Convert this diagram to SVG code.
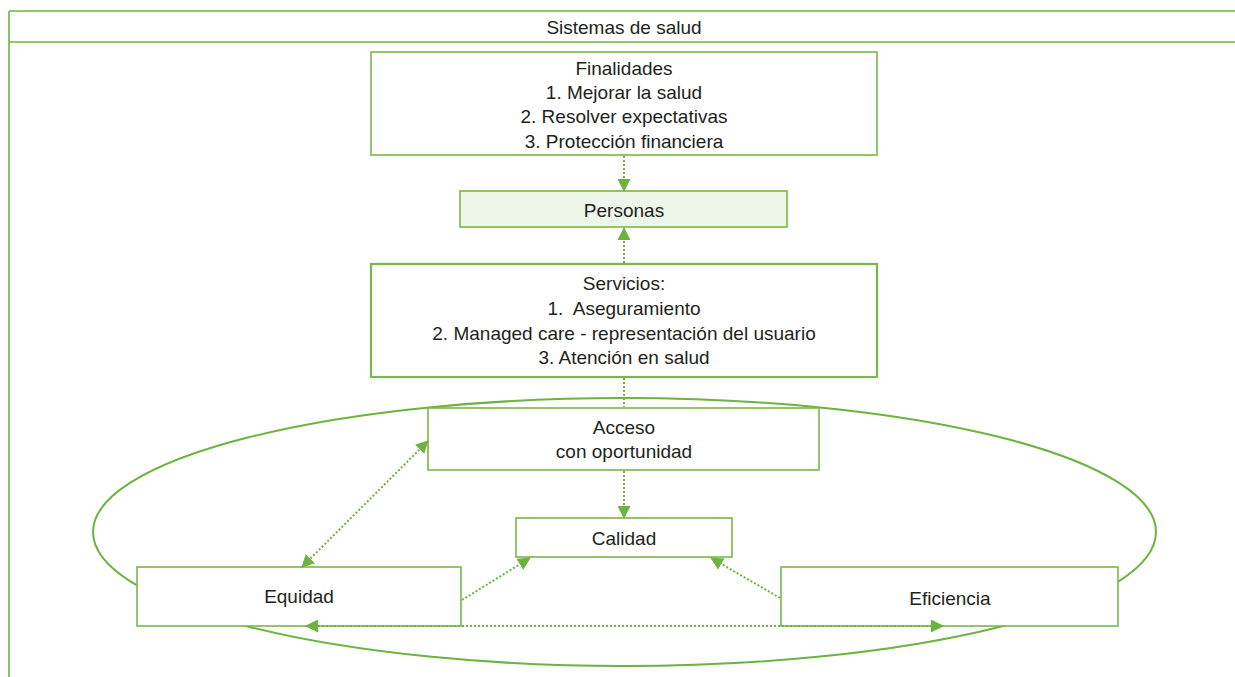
<svg xmlns="http://www.w3.org/2000/svg" width="1235" height="677" viewBox="0 0 1235 677">
  <defs>
    <marker id="arrow" viewBox="0 0 13 13" refX="12" refY="6.5" markerWidth="13" markerHeight="13" markerUnits="userSpaceOnUse" orient="auto-start-reverse">
      <path d="M0,0 L13,6.5 L0,13 Z" fill="#6cb33f"/>
    </marker>
    <style>
      .box { fill: #ffffff; stroke: #7ab648; stroke-width: 1.6; }
      .box.tint { fill: #eef5e9; }
      .box.bold { stroke-width: 2.2; }
      .lbl { font-family: "Liberation Sans", Arial, sans-serif; font-size: 19px; fill: #231f20; text-anchor: middle; dominant-baseline: central; }
      .dot { fill: none; stroke: #6cb33f; stroke-width: 2; stroke-dasharray: 2 2; }
      .ring { fill: none; stroke: #6cb33f; stroke-width: 2; }
      .frame { stroke: #6cb33f; stroke-width: 1.6; fill: none; }
    </style>
  </defs>

  <rect width="1235" height="677" fill="#ffffff"/>

  <!-- outer frame with title band -->
  <g id="frame">
    <line class="frame" x1="9" y1="11" x2="1235" y2="11" stroke="#9ccf7e"/>
    <line class="frame" x1="9" y1="42" x2="1235" y2="42"/>
    <line class="frame" x1="9" y1="11" x2="9" y2="677"/>
    <text class="lbl" x="624" y="27">Sistemas de salud</text>
  </g>

  <!-- cycle ring around the quality triangle -->
  <ellipse id="ring" class="ring" cx="624.5" cy="532" rx="531.5" ry="134"/>

  <g id="finalidades">
    <rect class="box" x="371" y="52" width="506" height="103"/>
    <text class="lbl" x="624" y="68">Finalidades</text>
    <text class="lbl" x="624" y="92">1. Mejorar la salud</text>
    <text class="lbl" x="624" y="116">2. Resolver expectativas</text>
    <text class="lbl" x="624" y="141">3. Protección financiera</text>
  </g>

  <g id="personas">
    <rect class="box tint" x="460" y="191" width="327" height="36"/>
    <text class="lbl" x="624" y="210">Personas</text>
  </g>

  <g id="servicios">
    <rect class="box bold" x="371" y="264" width="506" height="113"/>
    <text class="lbl" x="624" y="283">Servicios:</text>
    <text class="lbl" x="624" y="308" xml:space="preserve">1.  Aseguramiento</text>
    <text class="lbl" x="624" y="333">2. Managed care - representación del usuario</text>
    <text class="lbl" x="624" y="357">3. Atención en salud</text>
  </g>

  <g id="acceso">
    <rect class="box" x="428" y="408" width="391" height="62"/>
    <text class="lbl" x="624" y="427">Acceso</text>
    <text class="lbl" x="624" y="451">con oportunidad</text>
  </g>

  <g id="calidad">
    <rect class="box" x="516" y="518" width="216" height="39"/>
    <text class="lbl" x="624" y="538">Calidad</text>
  </g>

  <g id="equidad">
    <rect class="box" x="137" y="567" width="324" height="59"/>
    <text class="lbl" x="299" y="596">Equidad</text>
  </g>

  <g id="eficiencia">
    <rect class="box" x="781" y="567" width="337" height="59"/>
    <text class="lbl" x="950" y="598">Eficiencia</text>
  </g>

  <!-- connectors, drawn over the box edges -->
  <g id="connectors">
    <line class="dot" x1="624" y1="156" x2="624" y2="191" marker-end="url(#arrow)"/>
    <line class="dot" x1="624" y1="263" x2="624" y2="228" marker-end="url(#arrow)"/>
    <line class="dot" x1="624" y1="378" x2="624" y2="407"/>
    <line class="dot" x1="624" y1="471" x2="624" y2="518" marker-end="url(#arrow)"/>
    <line class="dot" x1="302" y1="567" x2="428" y2="441" marker-start="url(#arrow)" marker-end="url(#arrow)"/>
    <line class="dot" x1="462" y1="600" x2="530" y2="558" marker-end="url(#arrow)"/>
    <line class="dot" x1="780" y1="598" x2="711" y2="558" marker-end="url(#arrow)"/>
    <line class="dot" x1="306" y1="626" x2="943" y2="626" marker-start="url(#arrow)" marker-end="url(#arrow)"/>
  </g>
</svg>
